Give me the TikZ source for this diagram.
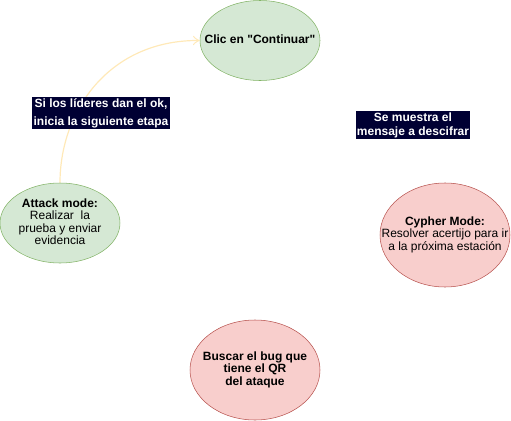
\documentclass[tikz,border=0pt]{standalone}
\usepackage{fontspec}
\setmainfont{Liberation Sans}
\usetikzlibrary{shapes.geometric,arrows.meta}
\definecolor{greenfill}{HTML}{D5E8D4}
\definecolor{greenline}{HTML}{82B366}
\definecolor{redfill}{HTML}{F8CECC}
\definecolor{redline}{HTML}{B85450}
\definecolor{navy}{HTML}{000033}
\definecolor{paleyellow}{HTML}{FFE9B8}
% text that does not widen the ellipse around it
\newcommand{\inside}[1]{\smash{\makebox[0pt]{\raisebox{-2.5pt}{\begin{tabular}{@{}c@{}}#1\end{tabular}}}}}
\begin{document}
\begin{tikzpicture}[x=0.75pt,y=-0.75pt,
    every node/.style={font=\fontsize{9}{10.5}\selectfont},
    state/.style={ellipse,draw,inner sep=0pt},
    green/.style={state,fill=greenfill,draw=greenline},
    red/.style={state,fill=redfill,draw=redline},
    tag/.style={fill=navy,text=white,inner sep=1pt,align=center,font=\fontsize{9}{13.5}\selectfont\bfseries}]
      \useasboundingbox (0,0) rectangle (511,421);
      \renewcommand{\arraystretch}{0.83}
      \draw
        (260,40.5) node[green,minimum width=90pt,minimum height=60pt] (clic){\inside{\textbf{Clic en \textquotedbl Continuar\textquotedbl}}}
        (60,223) node[green,minimum width=90pt,minimum height=60pt] (attack){\inside{\textbf{Attack mode:}\\Realizar\ \ la\\prueba y enviar\\evidencia}}
        (445,235) node[red,minimum width=97.5pt,minimum height=78pt] (cypher){\inside{\textbf{Cypher Mode:}\\Resolver acertijo para ir\\a la próxima estación}}
        (255,370) node[red,minimum width=97.5pt,minimum height=75pt] (bug){\inside{\textbf{Buscar el bug que}\\\textbf{tiene el QR}\\\textbf{del ataque}}};
      \begin{scope}[-{Classical TikZ Rightarrow[length=5pt,width=7pt]}]
        \draw[paleyellow,line width=0.9pt] (attack.north) .. controls (60,110) and (110,40) .. (clic.west);
      \end{scope}
      \node[tag] (ok) at (101,113) {Si los líderes dan el ok,\\inicia la siguiente etapa};
      \node[tag,font=\fontsize{9}{10.5}\selectfont\bfseries] (msg) at (413,125) {Se muestra el\\mensaje a descifrar};
    \end{tikzpicture}
\end{document}
